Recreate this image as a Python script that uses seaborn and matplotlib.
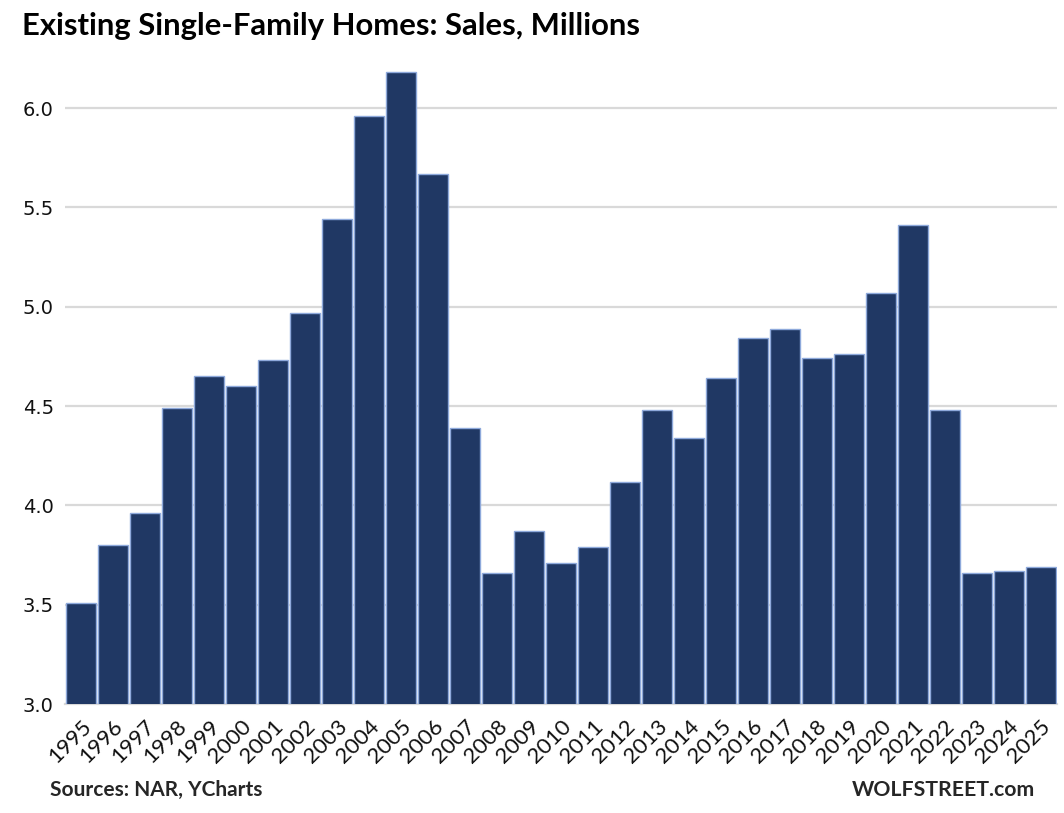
import matplotlib
matplotlib.use("Agg")
import matplotlib.pyplot as plt
import seaborn as sns
import pandas as pd
import numpy as np
from matplotlib.ticker import FixedLocator

years = [str(y) for y in range(1995, 2026)]
sales = [3.51, 3.80, 3.96, 4.49, 4.65, 4.60, 4.73, 4.97, 5.44, 5.96, 6.18,
         5.67, 4.39, 3.66, 3.87, 3.71, 3.79, 4.12, 4.48, 4.34, 4.64, 4.84,
         4.89, 4.74, 4.76, 5.07, 5.41, 4.48, 3.66, 3.67, 3.69]
y_ticks = [3.0, 3.5, 4.0, 4.5, 5.0, 5.5, 6.0]

df = pd.DataFrame({"Year": years, "Sales": sales})

sns.set_style("white")
plt.rcParams['font.family'] = ['DejaVu Sans']

fig = plt.figure(figsize=(10.64, 8.13), dpi=100)
ax = fig.add_axes([0.061, 0.134, 0.932, 0.782])

sns.barplot(data=df, x="Year", y="Sales", color="#203864", width=0.94,
            edgecolor="#8EA9DB", linewidth=1.0, saturation=1, ax=ax, zorder=3)

ax.set_ylim(3.0, 6.2)
ax.set_xlim(-0.5, len(years) - 0.5)
ax.set_yticks(y_ticks)
ax.set_yticklabels([f"{v:.1f}" for v in y_ticks], fontsize=14, color="#111111")
ax.yaxis.grid(True, color="#D9D9D9", linewidth=1.6, zorder=0)
ax.set_axisbelow(True)

ax.set_xticks(range(len(years)))
ax.set_xticklabels(years, rotation=45, ha="right", rotation_mode="anchor",
                   fontsize=16, family=["Lato", "DejaVu Sans"], color="#111111")
ax.xaxis.set_minor_locator(FixedLocator(np.arange(-0.5, len(years), 1.0)))
ax.tick_params(axis="x", which="major", length=0, pad=9)
ax.tick_params(axis="x", which="minor", length=9, width=1.5, color="#D9D9D9")
ax.tick_params(axis="y", length=0, pad=8)

for s in ["top", "right", "left"]:
    ax.spines[s].set_visible(False)
ax.spines["bottom"].set_color("#D9D9D9")
ax.spines["bottom"].set_linewidth(1.6)
ax.set_xlabel("")
ax.set_ylabel("")

fig.text(0.021, 0.968, "Existing Single-Family Homes: Sales, Millions",
         fontsize=22.3, fontweight="bold", family=["Lato", "DejaVu Sans"],
         ha="left", va="center", color="#000000")
fig.text(0.047, 0.016, "Sources: NAR, YCharts", fontsize=15, fontweight="bold",
         family=["Lato", "DejaVu Sans"], ha="left", va="bottom")
fig.text(0.973, 0.016, "WOLFSTREET.com", fontsize=15.3, fontweight="bold",
         family=["Lato", "DejaVu Sans"], ha="right", va="bottom")

fig.savefig("out.png", dpi=100)
